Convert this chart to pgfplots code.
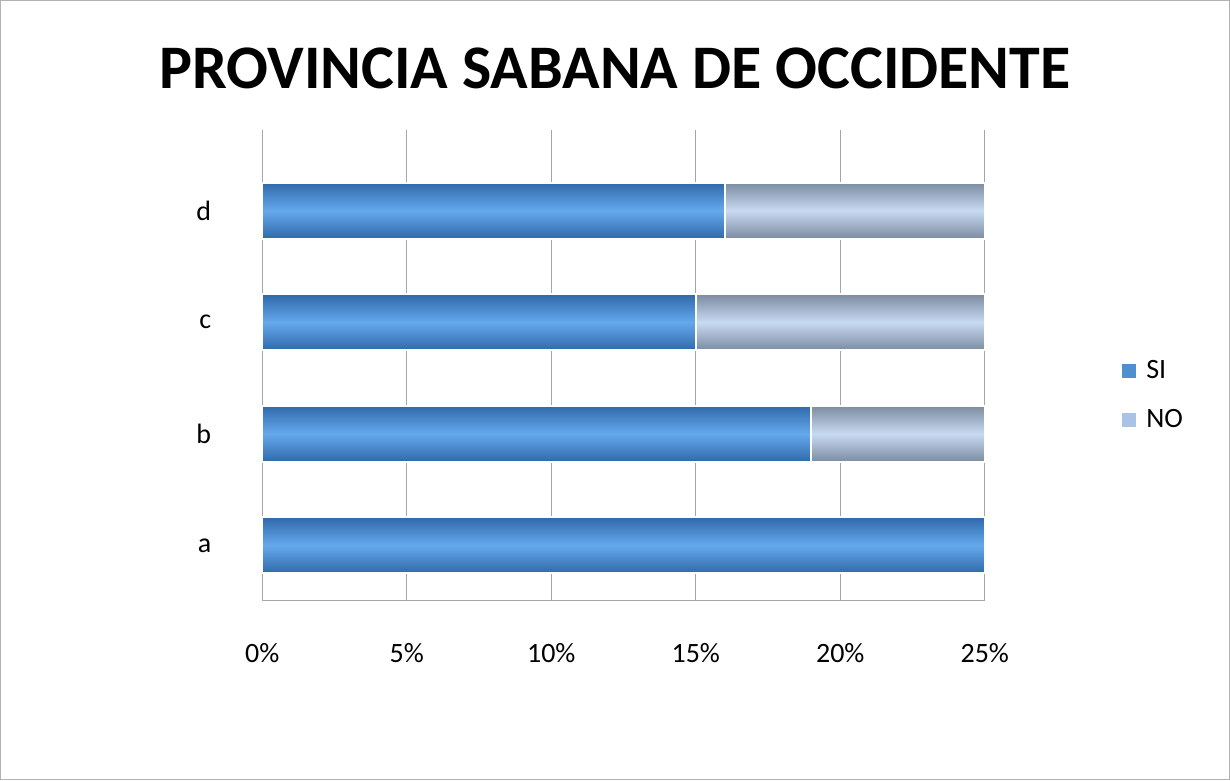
\documentclass[border=0pt]{standalone}
\usepackage{fontspec}
\setmainfont{Carlito}
\usepackage{pgfplots}
\pgfplotsset{compat=1.18}
\definecolor{siD}{HTML}{3069AA}
\definecolor{siL}{HTML}{64A9EC}
\definecolor{siM}{HTML}{4F8FD0}
\definecolor{noD}{HTML}{7B8BA0}
\definecolor{noL}{HTML}{C8DAF2}
\definecolor{noM}{HTML}{A9C2E6}
\pgfplotsset{
  sibar/.style={forget plot, draw=white, line width=1pt, top color=siD, bottom color=siD, middle color=siL},
  nobar/.style={forget plot, draw=white, line width=1pt, top color=noD, bottom color=noD, middle color=noL}}
\begin{document}
\begin{tikzpicture}
\draw[draw=gray!60, fill=white] (0,0) rectangle (615pt,390pt);
\node[font=\fontsize{31}{36}\selectfont\bfseries] at (307.5pt,356pt) {PROVINCIA SABANA DE OCCIDENTE};
\begin{axis}[at={(131pt,90pt)}, anchor=south west, scale only axis,
  width=361.5pt, height=235pt,
  xbar, bar width=28pt, bar shift=0pt,
  xmin=0, xmax=25, ymin=-0.49, ymax=3.72,
  xtick={0,5,...,25}, ytick={0,1,2,3}, yticklabels={a,b,c,d},
  xticklabel={\pgfmathprintnumber{\tick}\%},
  axis lines*=left, axis line style={gray!70},
  major tick length=0pt,
  xmajorgrids, grid style={gray!70, line width=0.6pt},
  tick label style={font=\fontsize{14}{16}\selectfont},
  /pgf/number format/assume math mode=true,
  yticklabel style={xshift=-22pt},
  xticklabel style={yshift=-18pt},
  legend style={at={(1.235,0.436)}, anchor=center, draw=none,
    font=\fontsize{14}{16}\selectfont, row sep=10pt},
  legend image code/.code={\fill[#1, draw=none] (0pt,-3.5pt) rectangle (7pt,3.5pt);},
  legend cell align=left, clip=false]
% total (SI + NO) drawn in NO colour, SI drawn over it
\addplot[nobar] coordinates {(25,1)};
\addplot[nobar] coordinates {(25,2)};
\addplot[nobar] coordinates {(25,3)};
\addplot[sibar] coordinates {(25,0)};
\addplot[sibar] coordinates {(19,1)};
\addplot[sibar] coordinates {(15,2)};
\addplot[sibar] coordinates {(16,3)};
\addlegendimage{fill=siM, draw=none}
\addlegendentry{\hspace{3pt}SI}
\addlegendimage{fill=noM, draw=none}
\addlegendentry{\hspace{3pt}NO}
\end{axis}
\end{tikzpicture}
\end{document}
